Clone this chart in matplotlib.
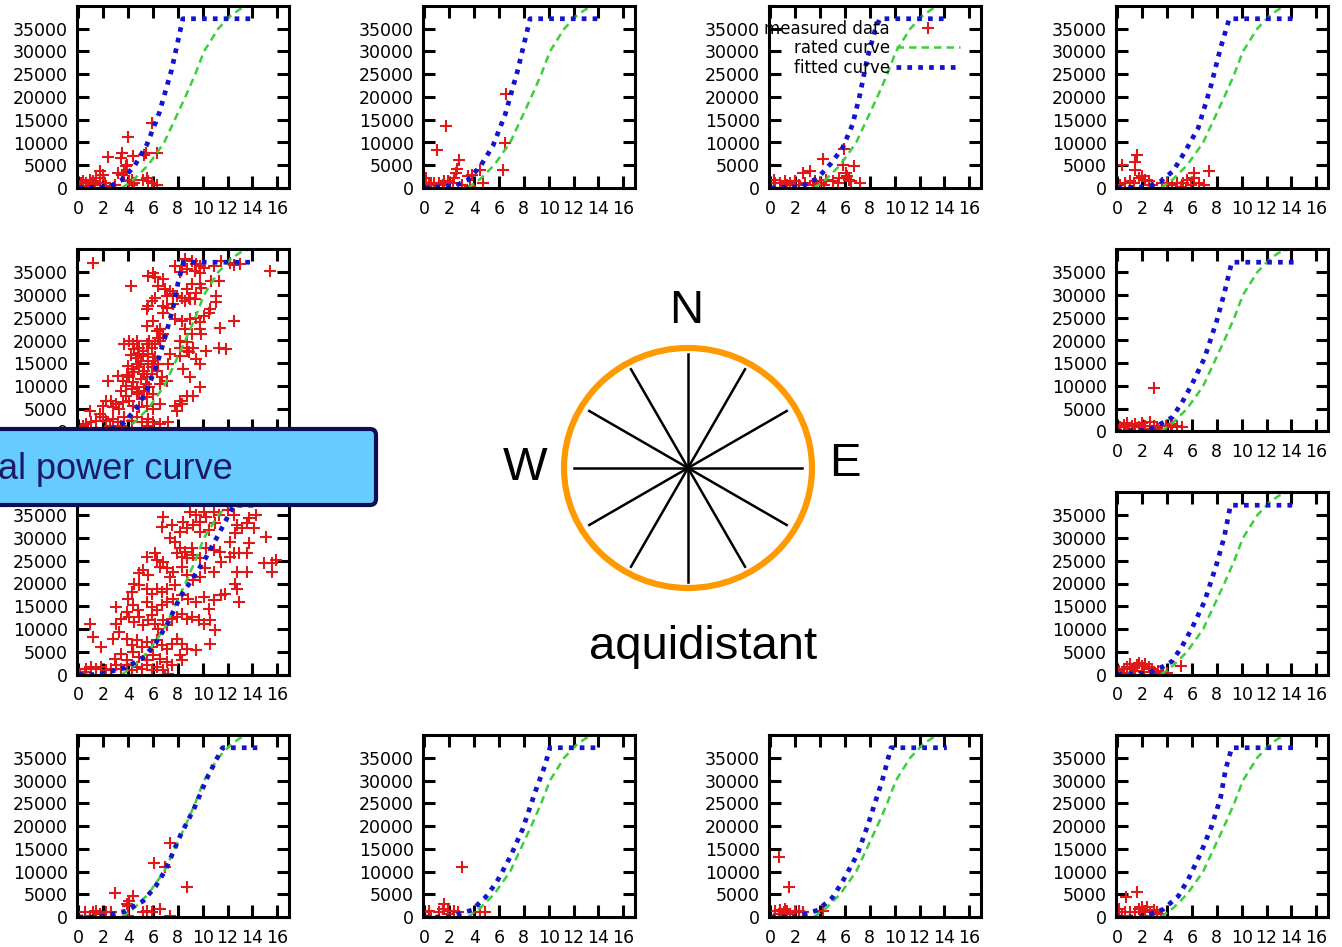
import numpy as np
import matplotlib as mpl
mpl.use('Agg')
import matplotlib.pyplot as plt
from matplotlib.patches import Ellipse, FancyBboxPatch

W, H = 1342, 947

# rated power curve, same for every direction
rated_ws = [3.5, 4.5, 5.6, 6.9, 7.75, 8.6, 9.4, 10.1, 11.25, 12.3, 13.0, 13.7]
rated_pw = [0, 2000, 5000, 10000, 15000, 20000, 25000, 30000, 35000, 38000, 39300, 40000]

# fitted curves per panel (wind speed, power)
r1c1_fit_ws = [0, 2.5, 3.5, 4.5, 5.5, 6.5, 7.5, 8.4, 14.2]
r1c1_fit_pw = [0, 300, 1800, 4800, 9500, 16500, 26000, 37200, 37200]
r1c2_fit_ws = [0, 2.5, 3.5, 4.5, 5.5, 6.5, 7.5, 8.5, 14.3]
r1c2_fit_pw = [0, 500, 1800, 4800, 9200, 16200, 25800, 37200, 37200]
r1c3_fit_ws = [0, 2.5, 3.8, 4.9, 5.8, 6.6, 7.2, 7.8, 8.4, 8.8, 14.0]
r1c3_fit_pw = [0, 300, 2200, 5500, 8800, 13900, 20500, 28600, 34500, 37200, 37200]
r1c4_fit_ws = [0, 2.5, 3.5, 4.5, 5.5, 6.5, 7.5, 8.3, 9.0, 14.1]
r1c4_fit_pw = [0, 300, 1500, 3800, 8300, 13200, 22200, 30800, 37200, 37200]
r2l_fit_ws = [0, 2.5, 3.7, 4.7, 5.5, 6.3, 7.0, 7.6, 8.0, 8.45, 14.1]
r2l_fit_pw = [0, 300, 2000, 5300, 9000, 14600, 21000, 27000, 32500, 37200, 37200]
r2r_fit_ws = [0, 2.5, 3.7, 4.4, 5.2, 6.0, 7.0, 8.0, 8.6, 9.2, 14.2]
r2r_fit_pw = [0, 300, 2000, 3100, 6400, 10400, 16100, 24400, 30400, 37200, 37200]
r3l_fit_ws = [0, 1.6, 3.8, 5.2, 6.1, 7.2, 8.2, 9.1, 10.2, 11.3, 12.5, 14.1]
r3l_fit_pw = [0, 0, 1500, 3700, 6400, 11300, 17100, 20700, 25400, 30900, 37200, 37200]
r3r_fit_ws = [0, 2.5, 3.7, 4.4, 5.2, 6.0, 7.0, 8.0, 8.6, 9.1, 14.2]
r3r_fit_pw = [0, 300, 1800, 2900, 6200, 10200, 16000, 24400, 30300, 37200, 37200]
r4c1_fit_ws = [0, 1.7, 3.7, 5.2, 6.2, 7.0, 8.2, 9.3, 10.4, 11.1, 11.6, 14.4]
r4c1_fit_pw = [0, 0, 1200, 3500, 6700, 10300, 17900, 23800, 30800, 34600, 37200, 37200]
r4c2_fit_ws = [0, 2.0, 3.8, 4.9, 5.8, 6.9, 7.9, 8.9, 9.7, 10.1, 14.1]
r4c2_fit_pw = [0, 0, 1500, 4300, 7600, 13200, 19300, 27400, 33300, 37200, 37200]
r4c3_fit_ws = [0, 2.0, 3.8, 5.0, 5.8, 7.0, 7.8, 8.5, 9.0, 9.7, 14.2]
r4c3_fit_pw = [0, 0, 1500, 4300, 7800, 13800, 19900, 25800, 30000, 37200, 37200]
r4c4_fit_ws = [0, 2.0, 3.7, 4.9, 5.7, 6.7, 7.6, 8.3, 8.7, 9.2, 14.2]
r4c4_fit_pw = [0, 0, 1700, 4600, 8300, 14000, 20100, 26200, 32400, 37200, 37200]

# measured data per panel (wind speed, power)
r1c1_pts = [(4.0, 11200), (5.9, 14200), (5.3, 7300), (5.45, 7700), (6.3, 7600), (3.5, 7600),
            (3.4, 6600), (4.4, 7000), (3.9, 5100), (3.7, 3300), (3.5, 2900), (3.2, 3200),
            (1.7, 3700), (2.0, 2900), (1.4, 2200), (1.2, 1500), (0.6, 1200), (0.2, 1100),
            (0.35, 1500), (0.9, 1800), (1.7, 1200), (2.1, 1100), (5.5, 2200), (5.6, 1500),
            (5.9, 1100), (6.3, 700), (5.2, 1800), (4.1, 1500), (4.3, 700), (4.5, 1100),
            (2.9, 700), (2.2, 400), (0.8, 400), (1.3, 700), (0.1, 500), (3.8, 4800),
            (4.3, 1800), (2.4, 6900)]
r1c2_pts = [(1.7, 13700), (1.0, 8300), (6.6, 20700), (6.5, 9800), (6.3, 3900), (2.8, 6100),
            (2.6, 4200), (2.5, 3300), (3.5, 2600), (3.8, 2900), (4.5, 4000), (4.7, 1000),
            (2.4, 2200), (2.0, 1200), (1.6, 1500), (1.2, 1200), (0.8, 1100), (0.4, 1200),
            (0.1, 2200), (0.5, 700), (1.9, 1500), (2.3, 1200), (1.5, 700), (3.0, 700), (3.7, 400)]
r1c3_pts = [(4.2, 6400), (3.2, 3700), (2.6, 3300), (5.9, 8600), (5.8, 5100), (6.7, 4800),
            (6.1, 3300), (6.2, 2600), (6.3, 1800), (6.5, 1500), (7.2, 1100), (5.4, 1200),
            (5.0, 1500), (4.5, 1800), (4.0, 1200), (4.3, 700), (3.6, 1500), (3.4, 700),
            (2.0, 1500), (1.6, 1200), (1.2, 1500), (0.8, 1100), (0.4, 1200), (0.3, 1800),
            (1.3, 700), (2.3, 700), (2.8, 1000), (5.5, 2200)]
r1c4_pts = [(1.6, 7300), (1.4, 5700), (0.35, 5100), (1.4, 3900), (7.4, 3700), (6.2, 3200),
            (6.2, 2200), (5.6, 1800), (6.6, 1100), (7.0, 700), (1.7, 2200), (2.2, 1800),
            (2.5, 1500), (1.0, 1500), (0.6, 1100), (0.2, 700), (1.3, 1200), (2.8, 700),
            (3.6, 1000), (4.0, 1200), (4.4, 700), (4.8, 1100), (5.1, 200), (5.3, 1100),
            (5.9, 700), (2.0, 2600)]
r2l_pts = [(1.16, 37100), (15.4, 35200), (4.26, 32000), (8.57, 37900), (9.1, 37500), (9.5, 36800),
           (9.8, 36400), (9.35, 35300), (9.8, 34900), (8.3, 36400), (7.8, 36400), (8.2, 35000),
           (8.7, 35700), (10.1, 36000), (10.9, 36400), (11.5, 37500), (12.2, 37100), (13.0, 36900),
           (12.5, 36700), (5.6, 34200), (6.0, 34900), (6.2, 34000), (6.8, 33500), (6.4, 32000),
           (6.97, 31300), (7.36, 30900), (7.6, 30200), (7.1, 29800), (8.7, 31300), (9.1, 32400),
           (9.5, 30500), (9.9, 31600), (9.4, 29100), (9.0, 29100), (9.8, 32400), (10.7, 33100),
           (11.1, 29800), (11.1, 28400), (11.3, 33100), (7.9, 29800), (8.3, 29400), (8.6, 28700),
           (8.9, 29400), (6.15, 29400), (5.9, 28700), (5.6, 27600), (5.5, 26900), (6.8, 27600),
           (7.1, 27200), (7.6, 28000), (6.8, 26100), (7.8, 24700), (8.3, 24300), (9.0, 24700),
           (9.5, 25000), (9.8, 24000), (10.1, 25400), (10.5, 26100), (10.6, 26900), (11.4, 22800),
           (12.5, 24300), (6.0, 24300), (5.5, 23200), (6.6, 22500), (6.8, 21400), (6.4, 20600),
           (6.3, 22100), (8.6, 22500), (9.1, 21400), (9.8, 22500), (9.9, 21400), (8.2, 19900),
           (8.7, 19600), (8.2, 18400), (8.9, 17400), (9.2, 18400), (10.3, 17700), (11.3, 18400),
           (11.9, 18100), (3.7, 19200), (4.1, 19900), (4.4, 19200), (4.7, 19900), (4.9, 18400),
           (5.2, 17700), (4.8, 17000), (4.5, 18100), (5.5, 19200), (5.7, 19900), (5.9, 18400),
           (5.2, 16600), (5.6, 17000), (6.15, 19200), (6.6, 19900), (7.36, 17000), (7.2, 14800),
           (8.2, 16600), (9.5, 15900), (9.8, 14800), (8.7, 17700), (8.4, 13700), (9.0, 11900),
           (9.8, 9700), (4.7, 14800), (4.9, 14100), (5.3, 13400), (5.6, 14800), (5.9, 14100),
           (6.0, 15500), (6.4, 14800), (4.3, 13700), (5.2, 12600), (5.5, 11900), (5.9, 12600),
           (6.3, 13400), (6.7, 11900), (7.1, 11100), (6.6, 10400), (3.2, 12300), (3.6, 11100),
           (4.1, 11900), (4.4, 10800), (3.8, 10100), (4.3, 9300), (4.7, 9700), (4.9, 8600),
           (5.3, 9000), (5.7, 9700), (6.0, 8200), (5.5, 7500), (5.1, 7100), (4.7, 8200),
           (2.4, 11100), (3.85, 7800), (4.1, 6700), (3.6, 6400), (3.05, 6000), (2.6, 6700),
           (2.2, 6700), (2.0, 5700), (2.8, 5300), (3.3, 4900), (4.4, 5700), (4.9, 5300),
           (5.5, 5700), (6.0, 4900), (6.6, 6000), (7.8, 5700), (8.2, 6700), (8.7, 7800),
           (9.2, 7800), (8.3, 6000), (7.9, 4600), (0.9, 4600), (1.7, 3800), (2.0, 3100),
           (1.4, 2400), (2.2, 2400), (2.8, 2700), (3.2, 2000), (3.7, 3100), (4.3, 2400),
           (4.7, 3100), (5.1, 2000), (5.6, 2700), (6.0, 2000), (6.6, 1600), (7.2, 2000),
           (0.6, 1600), (1.0, 2000), (0.35, 1300), (2.5, 1300), (3.45, 1300), (5.5, 1300),
           (4.5, 13000), (5.0, 15600), (4.0, 14500), (3.9, 12500), (5.4, 10500), (6.2, 16300),
           (4.6, 16200), (5.0, 11500), (3.4, 8800), (4.2, 16800)]
r2r_pts = [(2.9, 9500), (0.2, 900), (0.5, 1500), (0.75, 1800), (1.2, 1200), (1.4, 1600),
           (1.7, 1000), (2.0, 1800), (2.2, 1200), (2.6, 2000), (2.9, 1200), (3.2, 900),
           (3.9, 1200), (4.4, 1600), (4.8, 1200), (5.2, 1000), (0.9, 500), (2.1, 500),
           (3.3, 500), (4.3, 900)]
r3l_pts = [(15.9, 25100), (15.1, 30200), (15.6, 24400), (15.6, 22500), (14.9, 24400), (13.6, 22500),
           (13.6, 26600), (13.7, 28800), (14.1, 32100), (13.6, 33200), (14.3, 35000), (12.8, 22500),
           (12.6, 20000), (12.8, 18900), (12.9, 16000), (11.5, 17400), (11.8, 17800), (10.9, 16300),
           (10.5, 14500), (10.6, 11900), (11.0, 9700), (10.6, 6800), (12.2, 29100), (12.5, 26600),
           (12.9, 26600), (13.2, 32100), (12.6, 31000), (12.8, 32800), (12.0, 36100), (12.5, 35000),
           (13.7, 34300), (10.9, 35700), (10.3, 34600), (9.8, 33500), (10.1, 35700), (9.5, 35000),
           (9.0, 35700), (8.4, 33500), (8.7, 32100), (9.25, 32800), (9.8, 31300), (10.5, 31700),
           (11.0, 33200), (11.3, 35000), (8.2, 31300), (7.8, 29100), (7.4, 29900), (6.8, 34600),
           (6.7, 32400), (7.5, 32800), (8.2, 27700), (8.6, 26900), (8.3, 25800), (8.7, 25500),
           (7.9, 26600), (9.1, 27700), (9.25, 26200), (9.8, 25500), (10.3, 27700), (10.9, 27300),
           (11.4, 26900), (11.5, 24700), (12.2, 25800), (6.15, 26600), (6.3, 25100), (6.6, 23600),
           (6.8, 24700), (7.1, 23300), (5.5, 25800), (5.2, 22900), (4.9, 22200), (5.6, 21800),
           (7.6, 22500), (8.3, 23600), (8.7, 21800), (9.25, 20700), (9.8, 21400), (10.2, 23300),
           (10.9, 22500), (7.4, 21400), (7.8, 19600), (7.1, 18900), (6.7, 18200), (6.3, 18900),
           (5.9, 17800), (5.5, 18900), (4.9, 19600), (4.5, 20000), (4.3, 18200), (4.0, 16700),
           (4.4, 15200), (4.8, 14100), (5.5, 16000), (5.9, 14900), (6.3, 14100), (6.7, 15200),
           (7.1, 16000), (7.6, 16700), (8.3, 17400), (8.85, 16700), (9.5, 16000), (10.1, 17100),
           (3.05, 14900), (3.45, 12300), (3.9, 13800), (4.1, 12700), (4.5, 11600), (4.9, 12700),
           (5.2, 10800), (5.6, 11900), (5.9, 13000), (6.15, 11200), (6.4, 10100), (6.8, 11900),
           (7.1, 10800), (7.5, 12300), (7.9, 12700), (8.3, 13400), (8.7, 12300), (9.1, 12700),
           (9.7, 11900), (10.1, 11200), (0.9, 11200), (1.2, 8300), (1.8, 6100), (2.8, 7900),
           (3.05, 11200), (3.3, 9400), (3.9, 7900), (4.3, 6400), (4.7, 7500), (5.1, 6100),
           (5.5, 7200), (5.9, 6100), (6.3, 7500), (6.7, 6400), (7.1, 5700), (7.5, 6800),
           (7.9, 7900), (8.3, 6800), (8.7, 5700), (9.5, 5300), (8.2, 4200), (8.3, 3100),
           (2.9, 3500), (3.45, 4600), (3.9, 3100), (4.4, 5000), (4.9, 3900), (5.5, 3100),
           (6.0, 4200), (6.6, 3500), (7.1, 2800), (7.5, 2000), (0.6, 1300), (1.0, 1700),
           (1.4, 1300), (1.8, 1700), (2.2, 1000), (2.6, 1300), (3.05, 2000), (3.45, 1300),
           (3.9, 2000), (4.3, 1000), (4.7, 1700), (5.1, 1300), (5.5, 2000), (5.9, 1000),
           (6.3, 1700), (6.8, 1000), (7.2, 200), (0.1, 200), (0.5, 600), (6.96, 0)]
r3r_pts = [(5.1, 1800), (0.1, 700), (0.5, 1100), (0.75, 1600), (1.0, 2200), (1.3, 1500),
           (1.6, 2000), (1.7, 2600), (2.0, 1800), (2.2, 2300), (2.5, 1600), (2.8, 1100),
           (3.0, 400), (3.3, 700), (3.7, 600), (1.4, 700), (0.35, 400), (2.1, 600),
           (4.0, 400), (1.0, 1100)]
r4c1_pts = [(7.4, 16200), (6.1, 11800), (7.0, 11000), (8.7, 6500), (2.9, 5200), (4.4, 4600),
            (4.1, 3500), (4.0, 2400), (3.9, 2900), (6.6, 1700), (5.9, 1000), (5.5, 1300),
            (5.2, 1000), (7.4, 200), (4.0, 200), (0.5, 1200), (1.2, 1000), (1.4, 1300),
            (2.2, 1200), (2.6, 1000), (1.7, 700), (0.9, 200)]
r4c2_pts = [(3.0, 10900), (1.6, 2800), (1.5, 1700), (0.0, 1000), (0.4, 1300), (1.2, 1200),
            (1.9, 1300), (2.4, 1300), (2.7, 1000), (4.5, 1200), (4.9, 1200), (0.5, 0), (1.9, 600)]
r4c3_pts = [(0.7, 13100), (1.5, 6600), (0.4, 1300), (0.8, 1500), (1.1, 1000), (1.3, 1300),
            (1.6, 700), (2.0, 1000), (2.3, 1300), (2.6, 1000), (0.7, 600), (1.2, 1700),
            (4.2, 1300), (2.3, 0)]
r4c4_pts = [(1.6, 5600), (0.7, 4400), (0.1, 1700), (0.6, 1000), (1.0, 1200), (1.4, 1000),
            (1.7, 1700), (2.0, 2100), (2.2, 1300), (2.4, 2200), (2.6, 1200), (2.9, 1500),
            (3.2, 1000), (2.2, 200), (0.35, 200), (3.5, 600), (1.8, 1000)]

x_ticks = [0, 2, 4, 6, 8, 10, 12, 14, 16]
y_ticks = [0, 5000, 10000, 15000, 20000, 25000, 30000, 35000]
legend_labels = ['measured data', 'rated curve', 'fitted curve']
compass_deg = [0, 30, 60, 90, 120, 150, 180, 210, 240, 270, 300, 330]
compass_labels = ['N', 'W', 'E']
caption = 'aquidistant'
banner = 'al power curve'

# panel boxes in pixels: (left, top)
col_left = [77, 423, 769, 1116]
row_top = [6, 249.5, 492.5, 735]
box_w, box_h = 212, 182

panels = [
    (0, 0, r1c1_pts, r1c1_fit_ws, r1c1_fit_pw),
    (0, 1, r1c2_pts, r1c2_fit_ws, r1c2_fit_pw),
    (0, 2, r1c3_pts, r1c3_fit_ws, r1c3_fit_pw),
    (0, 3, r1c4_pts, r1c4_fit_ws, r1c4_fit_pw),
    (1, 0, r2l_pts, r2l_fit_ws, r2l_fit_pw),
    (1, 3, r2r_pts, r2r_fit_ws, r2r_fit_pw),
    (2, 0, r3l_pts, r3l_fit_ws, r3l_fit_pw),
    (2, 3, r3r_pts, r3r_fit_ws, r3r_fit_pw),
    (3, 0, r4c1_pts, r4c1_fit_ws, r4c1_fit_pw),
    (3, 1, r4c2_pts, r4c2_fit_ws, r4c2_fit_pw),
    (3, 2, r4c3_pts, r4c3_fit_ws, r4c3_fit_pw),
    (3, 3, r4c4_pts, r4c4_fit_ws, r4c4_fit_pw),
]

RED = '#e01818'
GREEN = '#3ccf3c'
BLUE = '#1414cc'

fig = plt.figure(figsize=(W / 100, H / 100), dpi=100)
fig.patch.set_facecolor('white')

for row, col, pts, fws, fpw in panels:
    left = col_left[col]
    top = row_top[row]
    ax = fig.add_axes([left / W, 1 - (top + box_h) / H, box_w / W, box_h / H])
    pts = np.array(pts)
    h1, = ax.plot(pts[:, 0], pts[:, 1], linestyle='none', marker='+', ms=8, mew=1.5,
                  color=RED)
    h2, = ax.plot(rated_ws, rated_pw, color=GREEN, lw=1.8, linestyle=(0, (3.0, 2.0)))
    h3, = ax.plot(fws, fpw, color=BLUE, lw=3.4, linestyle=(0, (1, 1.3)))
    ax.set_xlim(-0.12, 16.95)
    ax.set_ylim(0, 40000)
    ax.set_xticks(x_ticks)
    ax.set_yticks(y_ticks)
    ax.set_xticklabels([str(t) for t in x_ticks])
    ax.set_yticklabels([str(t) for t in y_ticks])
    ax.tick_params(direction='in', length=8.6, width=2.2, top=True, right=True,
                   labelsize=12.5, pad=6.5)
    ax.tick_params(axis='x', pad=8.5)
    for lab in ax.get_xticklabels() + ax.get_yticklabels():
        lab.set_family('DejaVu Sans')
    for sp in ax.spines.values():
        sp.set_linewidth(2.2)
    if row == 1 and col == 0:
        # bottom labels of this panel sit under the banner
        ax.tick_params(labelbottom=False)
    if row == 0 and col == 2:
        leg = ax.legend([h1, h2, h3], legend_labels, loc='upper right',
                        bbox_to_anchor=(0.9, 0.925), frameon=False, markerfirst=False,
                        handlelength=3.8, handletextpad=0.4, borderpad=0,
                        borderaxespad=0, labelspacing=0.1, fontsize=12, numpoints=1)
        for t in leg.get_texts():
            t.set_ha('right')

# overlay in pixel coordinates for the compass and the banner
ov = fig.add_axes([0, 0, 1, 1], zorder=10)
ov.set_xlim(0, W)
ov.set_ylim(H, 0)
ov.axis('off')
ov.patch.set_alpha(0)

cx, cy = 688, 468
for a in compass_deg:
    r = np.deg2rad(a)
    ov.plot([cx, cx + 114 * np.cos(r)], [cy, cy - 114 * np.sin(r)], color='black', lw=1.8)
ov.add_patch(Ellipse((cx, cy), 248, 240, fill=False, edgecolor='#ff9900', lw=4.5))

font = 'Liberation Sans'
ov.text(686, 311, compass_labels[0], fontsize=34, family=font, ha='center', va='center')
ov.text(525, 468, compass_labels[1], fontsize=34, family=font, ha='center', va='center')
ov.text(845, 464, compass_labels[2], fontsize=34, family=font, ha='center', va='center')
ov.text(703, 647, caption, fontsize=34, family=font, ha='center', va='center')

ov.add_patch(FancyBboxPatch((-30, 429), 406, 76, boxstyle='round,pad=0,rounding_size=6',
                            facecolor='#66ccff', edgecolor='#0d0d55', lw=3))
ov.text(-2, 469, banner, fontsize=26, family=font, color='#1a1a66', ha='left', va='center')

fig.savefig('out.png', dpi=100)
